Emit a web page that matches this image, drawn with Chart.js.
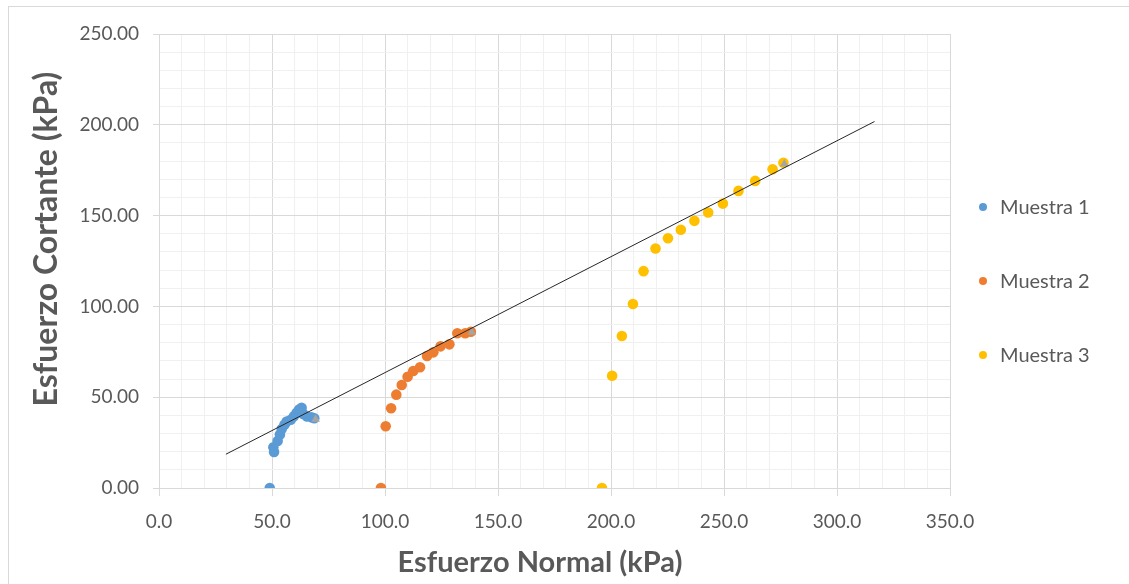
<!DOCTYPE html>
<html lang="es">
<head>
    <meta charset="UTF-8">
    <title>Esfuerzo Cortante vs Esfuerzo Normal</title>
    <script src="https://cdn.jsdelivr.net/npm/chart.js"></script>
    <style>
        html, body {
            margin: 0;
            padding: 0;
            background: #fff;
            overflow: hidden;
        }
        /* marco del gráfico, como en Excel */
        .marco {
            position: fixed;
            left: 8px;
            top: 6px;
            right: -10px;
            bottom: -10px;
            border: 1px solid #d9d9d9;
        }
        canvas {
            position: absolute;
            left: 0;
            top: 0;
        }
    </style>
</head>
<body>
    <div class="marco"></div>
    <canvas id="grafico" width="1129" height="584"></canvas>

    <script>
        // datos
        const series = ["Muestra 1", "Muestra 2", "Muestra 3"];
        const colores = ["#5B9BD5", "#ED7D31", "#FFC000"];

        const m1X = [49.0, 50.9, 50.6, 52.5, 53.5, 54.3, 55.5, 56.5, 58.3, 59.7, 60.9, 62.0, 63.1, 63.8, 65.5, 67.5, 68.7];
        const m1Y = [0.0, 19.8, 22.4, 25.9, 29.5, 32.5, 34.8, 36.6, 37.6, 39.5, 41.5, 43.2, 44.2, 40.8, 39.4, 38.9, 38.4];

        const m2X = [98.2, 100.3, 102.7, 105.0, 107.4, 110.0, 112.5, 115.5, 118.6, 121.4, 124.6, 128.5, 132.0, 135.5, 138.0];
        const m2Y = [0.0, 34.0, 43.9, 51.4, 56.7, 61.3, 64.4, 66.5, 72.7, 74.7, 78.0, 79.1, 85.2, 85.2, 86.0];

        const m3X = [196.0, 200.5, 204.8, 209.7, 214.4, 219.7, 225.2, 230.9, 236.9, 243.0, 249.5, 256.4, 263.8, 271.5, 276.3];
        const m3Y = [0.0, 61.8, 83.7, 101.3, 119.4, 131.9, 137.5, 142.2, 147.1, 151.7, 156.6, 163.6, 169.1, 175.5, 179.1];

        // máximos de cada muestra (triángulos grises)
        const picoX = [69.3, 138.4, 276.7];
        const picoY = [37.8, 85.7, 178.4];

        // línea de tendencia (extremos)
        const tendX = [29.6, 316.6];
        const tendY = [18.6, 201.8];

        const ticksX = [0, 50, 100, 150, 200, 250, 300, 350];
        const ticksY = [0, 50, 100, 150, 200, 250];

        const tituloX = "Esfuerzo Normal (kPa)";
        const tituloY = "Esfuerzo Cortante (kPa)";

        const puntos = (xs, ys) => xs.map((x, i) => ({ x: x, y: ys[i] }));

        const gris = "#595959";
        const gridMayor = "#d9d9d9";
        const gridMenor = "#f0f0f0";

        // títulos de ejes y leyenda dibujados a mano (posición como en Excel)
        const rotulos = {
            id: "rotulos",
            afterDraw(chart) {
                const ctx = chart.ctx;
                ctx.save();
                ctx.fillStyle = gris;
                ctx.textAlign = "center";
                ctx.textBaseline = "middle";
                ctx.font = "bold 29px Lato";
                ctx.fillText(tituloX, 540, 563);

                ctx.save();
                ctx.translate(47, 239);
                ctx.rotate(-Math.PI / 2);
                ctx.font = "bold 32px Lato";
                ctx.fillText(tituloY, 0, 0);
                ctx.restore();

                // leyenda
                ctx.textAlign = "left";
                ctx.font = "20px Lato";
                series.forEach((nombre, i) => {
                    const y = 207 + i * 74;
                    ctx.fillStyle = colores[i];
                    ctx.beginPath();
                    ctx.arc(983, y, 4, 0, Math.PI * 2);
                    ctx.fill();
                    ctx.fillStyle = gris;
                    ctx.fillText(nombre, 1000, y + 1);
                });
                ctx.restore();
            }
        };

        const esMayor = (valor, lista) => lista.includes(Math.round(valor));

        const ctx = document.getElementById("grafico").getContext("2d");
        const grafico = new Chart(ctx, {
            type: "scatter",
            data: {
                datasets: [
                    {
                        label: "Tendencia",
                        data: puntos(tendX, tendY),
                        showLine: true,
                        borderColor: "#262626",
                        borderWidth: 1,
                        pointRadius: 0,
                        fill: false
                    },
                    {
                        label: "Máximos",
                        data: puntos(picoX, picoY),
                        pointStyle: "triangle",
                        pointRadius: 5,
                        backgroundColor: "#A5A5A5",
                        borderColor: "#A5A5A5",
                        borderWidth: 0
                    },
                    {
                        label: series[0],
                        data: puntos(m1X, m1Y),
                        pointRadius: 5.3,
                        backgroundColor: colores[0],
                        borderColor: colores[0],
                        borderWidth: 0
                    },
                    {
                        label: series[1],
                        data: puntos(m2X, m2Y),
                        pointRadius: 5.3,
                        backgroundColor: colores[1],
                        borderColor: colores[1],
                        borderWidth: 0
                    },
                    {
                        label: series[2],
                        data: puntos(m3X, m3Y),
                        pointRadius: 5.3,
                        backgroundColor: colores[2],
                        borderColor: colores[2],
                        borderWidth: 0
                    }
                ]
            },
            options: {
                responsive: false,
                animation: false,
                devicePixelRatio: 1,
                layout: {
                    padding: { left: 0, top: 34, right: 179, bottom: 0 }
                },
                plugins: {
                    legend: { display: false },
                    tooltip: { enabled: false }
                },
                scales: {
                    x: {
                        type: "linear",
                        min: 0,
                        max: 350,
                        afterFit: (scale) => { scale.height = 96; },
                        border: { color: gridMayor },
                        grid: {
                            color: (c) => esMayor(c.tick.value, ticksX) ? gridMayor : gridMenor,
                            tickColor: (c) => esMayor(c.tick.value, ticksX) ? gridMayor : "rgba(0,0,0,0)",
                            tickLength: 8
                        },
                        ticks: {
                            stepSize: 10,
                            maxTicksLimit: 100,
                            autoSkip: false,
                            maxRotation: 0,
                            minRotation: 0,
                            padding: 14,
                            color: gris,
                            font: { family: "Lato", size: 19 },
                            callback: (v) => esMayor(v, ticksX) ? v.toFixed(1) : ""
                        }
                    },
                    y: {
                        type: "linear",
                        min: 0,
                        max: 250,
                        afterFit: (scale) => { scale.width = 159; },
                        border: { color: gridMayor },
                        grid: {
                            color: (c) => esMayor(c.tick.value, ticksY) ? gridMayor : gridMenor,
                            tickColor: (c) => esMayor(c.tick.value, ticksY) ? gridMayor : "rgba(0,0,0,0)",
                            tickLength: 6
                        },
                        ticks: {
                            stepSize: 10,
                            maxTicksLimit: 100,
                            autoSkip: false,
                            padding: 14,
                            color: gris,
                            font: { family: "Lato", size: 19 },
                            callback: (v) => esMayor(v, ticksY) ? v.toFixed(2) : ""
                        }
                    }
                }
            },
            plugins: [rotulos]
        });
    </script>
</body>
</html>
